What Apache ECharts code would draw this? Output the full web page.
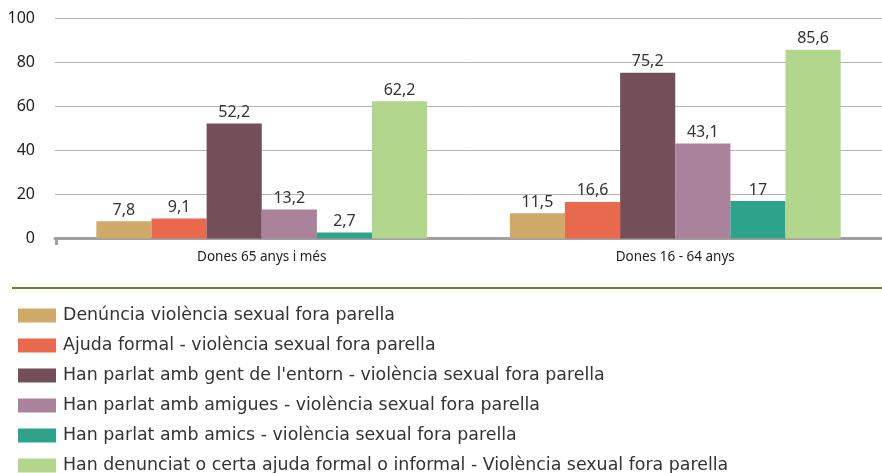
<!DOCTYPE html>
<html>
<head>
<meta charset="utf-8">
<script src="https://cdn.jsdelivr.net/npm/echarts@6/dist/echarts.min.js"></script>
<style>
  html, body { margin: 0; padding: 0; background: #fff; }
  #chart { width: 882px; height: 473px; }
</style>
</head>
<body>
<div id="chart"></div>
<script>
// categories and series
const categories = ['Dones 65 anys i més', 'Dones 16 - 64 anys']
const seriesNames = [
  'Denúncia violència sexual fora parella',
  'Ajuda formal - violència sexual fora parella',
  "Han parlat amb gent de l'entorn - violència sexual fora parella",
  'Han parlat amb amigues - violència sexual fora parella',
  'Han parlat amb amics - violència sexual fora parella',
  'Han denunciat o certa ajuda formal o informal - Violència sexual fora parella'
]
const denuncia = [7.8, 11.5]
const ajudaFormal = [9.1, 16.6]
const gentEntorn = [52.2, 75.2]
const amigues = [13.2, 43.1]
const amics = [2.7, 17]
const denunciatOAjuda = [62.2, 85.6]
const yTicks = [0, 20, 40, 60, 80, 100]

const colors = ['#cfaa68', '#e8694e', '#744f5a', '#ab829c', '#2ca38a', '#b2d68c']
const values = [denuncia, ajudaFormal, gentEntorn, amigues, amics, denunciatOAjuda]

const chart = echarts.init(document.getElementById('chart'))
chart.setOption({
  animation: false,
  color: colors,
  textStyle: { fontFamily: 'Noto Sans' },
  grid: { left: 55, right: -3, top: 18, bottom: 234.5, containLabel: false },
  legend: {
    orient: 'vertical',
    left: 13,
    top: 302,
    height: 200,
    itemWidth: 38,
    itemHeight: 14,
    itemGap: 13,
    icon: 'rect',
    textStyle: { fontSize: 17.4, color: '#333', fontFamily: 'DejaVu Sans', padding: [0, 0, 0, 2] },
    data: seriesNames
  },
  xAxis: {
    type: 'category',
    data: categories,
    axisLine: { lineStyle: { color: '#a0a0a0', width: 3 } },
    axisTick: { show: false },
    axisLabel: { fontSize: 13.5, color: '#222', margin: 12, fontFamily: 'Noto Sans' }
  },
  yAxis: {
    type: 'value',
    min: yTicks[0],
    max: yTicks[yTicks.length - 1],
    interval: 20,
    axisLine: { show: false },
    axisTick: { show: false },
    axisLabel: { fontSize: 16, color: '#222', margin: 20, fontFamily: 'Noto Sans' },
    splitLine: { lineStyle: { color: '#b4b4b4', width: 1 } }
  },
  series: seriesNames.map((name, i) => ({
    name: name,
    type: 'bar',
    data: values[i],
    barGap: 0,
    barCategoryGap: '20%',
    itemStyle: { color: colors[i] },
    label: {
      show: true,
      position: 'top',
      distance: 3,
      fontSize: 16,
      color: '#333',
      fontFamily: 'Noto Sans',
      formatter: p => String(p.value).replace('.', ',')
    }
  })),
  graphic: [
    {
      type: 'line',
      shape: { x1: 12, y1: 288, x2: 882, y2: 288 },
      style: { stroke: '#5e8a2a', lineWidth: 2 }
    },
    {
      type: 'line',
      shape: { x1: 56.5, y1: 238, x2: 56.5, y2: 245 },
      style: { stroke: '#a0a0a0', lineWidth: 3 }
    }
  ]
})
</script>
</body>
</html>
